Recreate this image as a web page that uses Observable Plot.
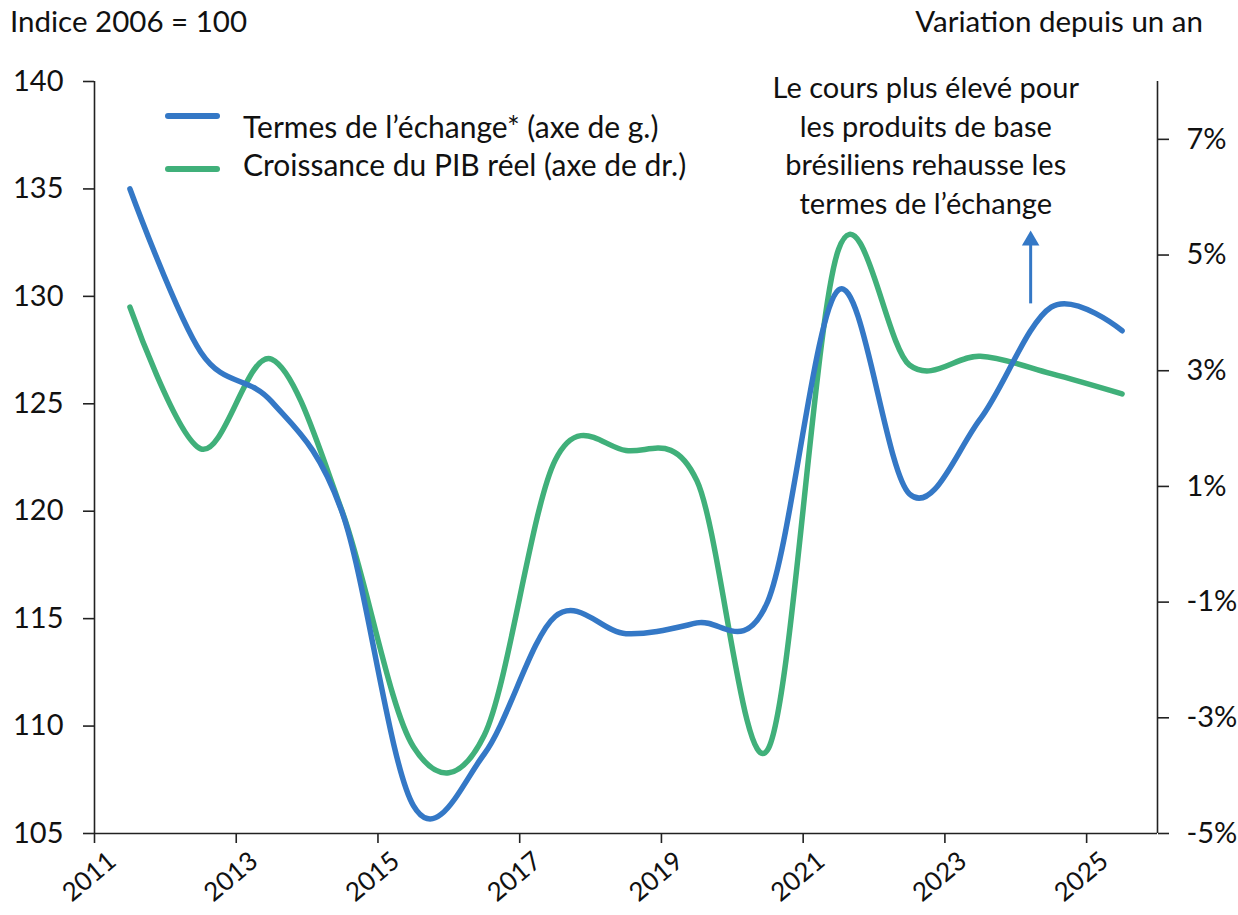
<!DOCTYPE html>
<html>
<head>
<meta charset="utf-8">
<script src="https://cdn.jsdelivr.net/npm/d3@7"></script>
<script src="https://cdn.jsdelivr.net/npm/@observablehq/plot@0.6"></script>
<style>
  body { margin: 0; background: #fff; font-family: Lato, sans-serif; color: #111; }
  #wrap { position: relative; width: 1238px; height: 915px; }
  #hdr { position: relative; height: 45px; font-size: 29.5px; }
  #hdr span { position: absolute; top: 3px; white-space: nowrap; line-height: 36px; }
  #legend { position: absolute; left: 0; top: 0; font-size: 30px; }
  .ln { position: absolute; left: 165px; width: 55px; height: 6px; border-radius: 3px; }
  .tx { position: absolute; left: 243px; white-space: nowrap; line-height: 36px; }
  svg { display: block; }
</style>
</head>
<body>
<div id="wrap">
  <div id="hdr">
    <span style="left:10px">Indice 2006 = 100</span>
    <span style="right:35px">Variation depuis un an</span>
  </div>
  <div id="chart"></div>
  <div id="legend"></div>
</div>
<script>
// ---- data ----
const years = [2011, 2012, 2013, 2014, 2015, 2016, 2017, 2018, 2019, 2020, 2021, 2022, 2023, 2024, 2025];
const termsOfTrade = [135.0, 127.4, 125.1, 119.9, 106.3, 108.7, 115.1, 114.3, 114.8, 115.8, 130.3, 120.8, 124.3, 129.5, 128.4];
const gdpGrowth = [4.1, 1.65, 3.2, 0.55, -3.5, -3.3, 1.45, 1.62, 1.1, -3.55, 5.1, 3.1, 3.25, 2.95, 2.6];
const xTickYears = [2011, 2013, 2015, 2017, 2019, 2021, 2023, 2025];
const leftTicks = [105, 110, 115, 120, 125, 130, 135, 140];
const rightTicks = [-5, -3, -1, 1, 3, 5, 7];
const seriesNames = ["Termes de l’échange* (axe de g.)", "Croissance du PIB réel (axe de dr.)"];
const colors = ["#3478C6", "#40B07A"];
const annotationText = "Le cours plus élevé pour\nles produits de base\nbrésiliens rehausse les\ntermes de l’échange";
const annotationX = [2022.73];
const annotationY = [140.5];
const arrowX = [2024.21];
const arrowY = [129.65, 132.6];

// ---- scales ----
const leftDomain = [105, 140];
const rightDomain = [-5, 8];
const toLeft = v => leftDomain[0] + (v - rightDomain[0]) * (leftDomain[1] - leftDomain[0]) / (rightDomain[1] - rightDomain[0]);
const fromLeft = v => rightDomain[0] + (v - leftDomain[0]) * (rightDomain[1] - rightDomain[0]) / (leftDomain[1] - leftDomain[0]);

const tot = years.map((y, i) => ({x: y + 0.5, v: termsOfTrade[i]}));
const gdp = years.map((y, i) => ({x: y + 0.5, v: toLeft(gdpGrowth[i])}));

const axisColor = "#222";
const fs = 29;

const chart = Plot.plot({
  width: 1238,
  height: 870,
  marginLeft: 94,
  marginRight: 81,
  marginTop: 36,
  marginBottom: 82,
  style: {fontFamily: "Lato, sans-serif", fontSize: fs + "px", color: "#111", background: "#fff", overflow: "visible"},
  x: {domain: [2011, 2026], axis: null},
  y: {domain: leftDomain, axis: null},
  marks: [
    // axis lines
    Plot.ruleX([2011], {stroke: axisColor, strokeWidth: 1.6}),
    Plot.ruleX([2026], {stroke: axisColor, strokeWidth: 1.6}),
    Plot.ruleY([105], {stroke: axisColor, strokeWidth: 1.6}),
    // left axis
    Plot.axisY({anchor: "left", ticks: leftTicks, tickSize: 11, tickPadding: 20, stroke: axisColor, strokeWidth: 1.6, fontSize: fs, label: null}),
    // right axis
    Plot.axisY({anchor: "right", ticks: rightTicks.map(toLeft), tickFormat: d => Math.round(fromLeft(d)) + "%", tickSize: 11, tickPadding: 18, stroke: axisColor, strokeWidth: 1.6, fontSize: fs, label: null}),
    // x ticks (labels drawn separately)
    Plot.axisX({anchor: "bottom", ticks: xTickYears, tickSize: 10, tickFormat: () => "", stroke: axisColor, strokeWidth: 1.6, label: null}),
    Plot.text(xTickYears, {x: d => d, y: leftDomain[0], text: d => String(d), rotate: -40, textAnchor: "end", lineAnchor: "middle", dx: 18, dy: 24, fontSize: 26, fill: "#111"}),
    // series
    Plot.line(gdp, {x: "x", y: "v", stroke: colors[1], strokeWidth: 5.5, curve: "cardinal", strokeLinecap: "round"}),
    Plot.line(tot, {x: "x", y: "v", stroke: colors[0], strokeWidth: 5.5, curve: "cardinal", strokeLinecap: "round"}),
    // annotation
    Plot.text(annotationX, {x: d => d, y: annotationY[0], text: () => annotationText, lineAnchor: "top", lineHeight: 1.33, fontSize: fs, fill: "#111"}),
    Plot.ruleX(arrowX, {x: d => d, y1: arrowY[0], y2: arrowY[1], stroke: colors[0], strokeWidth: 3}),
    Plot.dot(arrowX, {x: d => d, y: arrowY[1], symbol: "triangle", r: 6.5, fill: colors[0], stroke: null})
  ]
});
document.getElementById("chart").appendChild(chart);

// legend (HTML)
const lg = document.getElementById("legend");
const lineTops = [113, 166];
const textTops = [108, 146];
seriesNames.forEach((name, i) => {
  const ln = document.createElement("div");
  ln.className = "ln";
  ln.style.top = lineTops[i] + "px";
  ln.style.background = colors[i];
  lg.appendChild(ln);
  const tx = document.createElement("div");
  tx.className = "tx";
  tx.style.top = textTops[i] + "px";
  tx.textContent = name;
  lg.appendChild(tx);
});
</script>
</body>
</html>
